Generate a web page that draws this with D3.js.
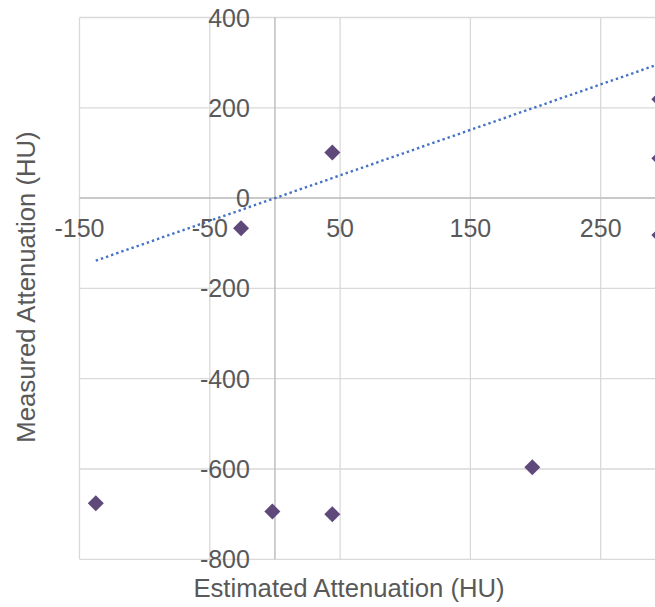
<!DOCTYPE html>
<html>
<head>
<meta charset="utf-8">
<script src="https://cdn.jsdelivr.net/npm/d3@7"></script>
<style>
  html, body { margin: 0; padding: 0; background: #ffffff; }
  svg { display: block; }
  text { font-family: "Liberation Sans", Arial, sans-serif; fill: #595959; }
</style>
</head>
<body>
<div id="chart"></div>
<script>
// ---- data ----
const estimated = [-137.5, -26, 44, -2, 44, 197.5, 295, 295, 295];
const measured  = [-676, -67, 101, -694, -700, -596, 219, 88, -82];
const xTicks = [-150, -50, 50, 150, 250];
const yTicks = [-800, -600, -400, -200, 0, 200, 400];
const trendSlope = [1.007];
const trendIntercept = [0];
const trendRange = [-137.5, 350];
const xTitle = "Estimated Attenuation (HU)";
const yTitle = "Measured Attenuation (HU)";

// ---- layout ----
const W = 655, H = 607;
const svg = d3.select("#chart").append("svg").attr("width", W).attr("height", H);

const x = d3.scaleLinear().domain([-150, 350]).range([79.5, 79.5 + 500 * 1.303]);
const y = d3.scaleLinear().domain([-800, 400]).range([559.3, 17.5]);

const plot = svg.append("g");

// gridlines
plot.selectAll(".hg").data(yTicks).enter().append("line")
  .attr("x1", x(-150)).attr("x2", x(350))
  .attr("y1", d => y(d)).attr("y2", d => y(d))
  .attr("stroke", "#d9d9d9").attr("stroke-width", 1.3);
plot.selectAll(".vg").data(xTicks).enter().append("line")
  .attr("x1", d => x(d)).attr("x2", d => x(d))
  .attr("y1", y(400)).attr("y2", y(-800))
  .attr("stroke", "#d9d9d9").attr("stroke-width", 1.3);

// axis lines crossing at zero
plot.append("line").attr("x1", x(-150)).attr("x2", x(350))
  .attr("y1", y(0)).attr("y2", y(0)).attr("stroke", "#bfbfbf").attr("stroke-width", 1.5);
plot.append("line").attr("x1", x(0)).attr("x2", x(0))
  .attr("y1", y(400)).attr("y2", y(-800)).attr("stroke", "#bfbfbf").attr("stroke-width", 1.5);

// tick labels
svg.selectAll(".yl").data(yTicks).enter().append("text")
  .attr("x", x(0) - 25).attr("y", d => y(d)).attr("dy", "0.36em")
  .attr("text-anchor", "end").style("font-size", "25px")
  .text(d => d);
svg.selectAll(".xl").data(xTicks).enter().append("text")
  .attr("x", d => x(d)).attr("y", y(0) + 39)
  .attr("text-anchor", "middle").style("font-size", "25px")
  .text(d => d);

// trendline
const tl = trendRange.map(v => [v, trendSlope[0] * v + trendIntercept[0]]);
plot.append("path")
  .attr("d", d3.line().x(d => x(d[0])).y(d => y(d[1]))(tl))
  .attr("fill", "none").attr("stroke", "#4472c4").attr("stroke-width", 2.4)
  .attr("stroke-dasharray", "2.4,3");

// points
const pts = estimated.map((v, i) => ({ x: v, y: measured[i] }));
const sym = d3.symbol().type(d3.symbolSquare).size(128);
plot.selectAll(".pt").data(pts).enter().append("path")
  .attr("d", sym)
  .attr("transform", d => `translate(${x(d.x)},${y(d.y)}) rotate(45)`)
  .attr("fill", "#5f497a");

// axis titles
svg.append("text").attr("x", 349).attr("y", 597)
  .attr("text-anchor", "middle").style("font-size", "25.7px").text(xTitle);
svg.append("text")
  .attr("transform", "translate(35,287) rotate(-90)")
  .attr("text-anchor", "middle").style("font-size", "25.7px").text(yTitle);
</script>
</body>
</html>
